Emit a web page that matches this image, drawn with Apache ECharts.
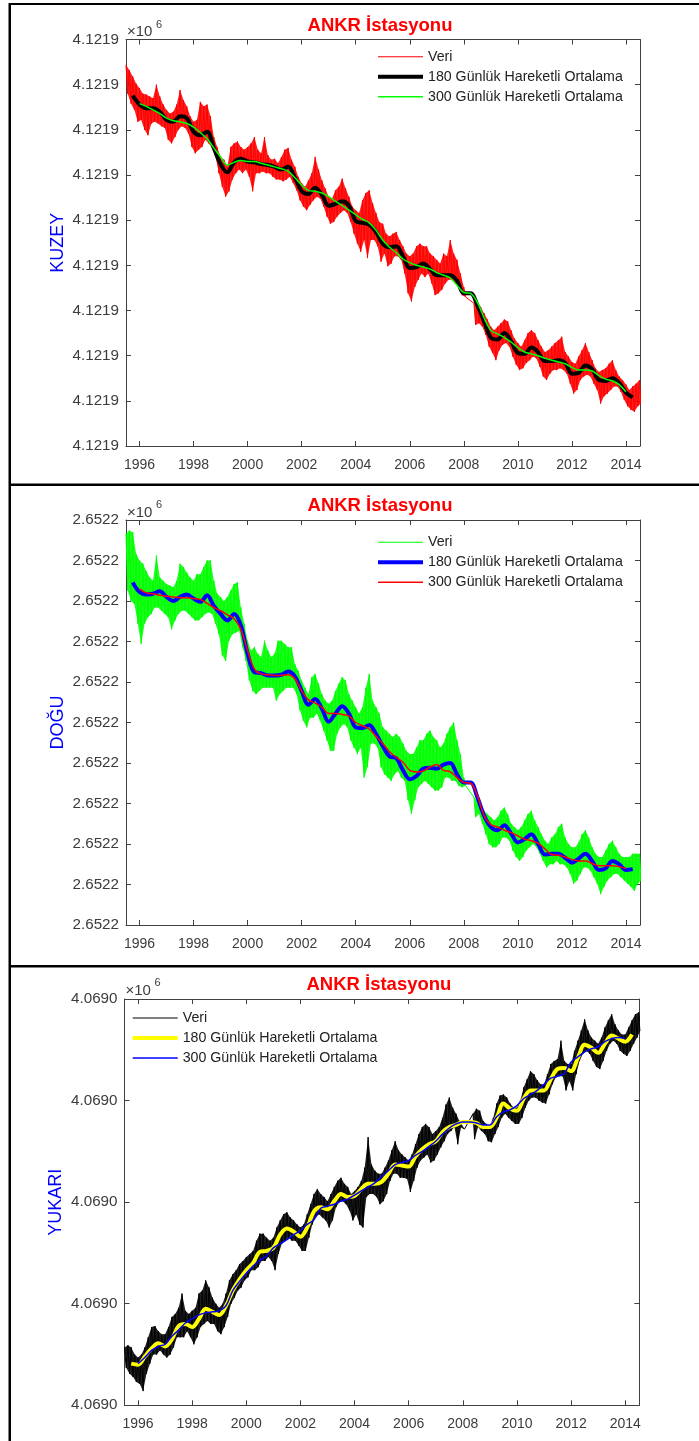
<!DOCTYPE html>
<html>
<head>
<meta charset="utf-8">
<script src="https://cdn.jsdelivr.net/npm/echarts@6/dist/echarts.min.js"></script>
<style>
  html, body { margin: 0; padding: 0; background: #ffffff; }
  #chart { width: 699px; height: 1441px; }
</style>
</head>
<body>
<div id="chart"></div>
<script>
// ANKR GNSS station: north / east / up coordinate series with 180- and 300-day moving averages.
// All series values are millimetres above each component's base coordinate (metres).

// Raw series: upper and lower swing of the daily scatter, one pair every 1.5 months from 1995.5
const RAW_START = 1995.5;
const RAW_STEP = 0.125;
// Moving averages: one value per quarter year
const MA180_START = 1995.75;
const MA300_START = 1996.0;
const MA_STEP = 0.25;

const yearTicks = [1996, 1998, 2000, 2002, 2004, 2006, 2008, 2010, 2012, 2014];

// ---- KUZEY (north), base 4121900 m
const kuzeyHi = [422,416,409,401,
  396,390,389,387,385,400,387,378,
  372,368,370,378,394,383,376,365,
  359,361,381,376,378,365,342,331,
  320,317,309,331,335,337,331,328,
  331,335,342,328,324,342,322,317,
  318,313,320,328,330,317,309,298,
  291,287,294,302,320,306,294,285,
  276,274,283,287,296,285,276,265,
  261,258,272,280,283,269,258,248,
  246,235,232,235,237,228,221,213,
  210,213,221,224,221,221,213,210,
  206,202,213,210,228,213,206,191,
  176,null,null,158,158,154,147,140,
  132,128,132,136,140,138,128,119,
  114,110,117,125,128,125,117,110,
  104,106,110,114,117,121,104,99,
  93,91,99,106,114,104,95,86,
  82,84,86,91,95,84,77,73,
  68,62,66,69,73];
const kuzeyLo = [390,379,372,359,
  361,350,344,357,359,357,354,352,
  339,335,342,350,354,352,346,331,
  324,328,331,339,335,330,320,302,
  287,276,282,295,302,306,302,306,
  298,282,302,302,304,302,302,298,
  295,295,293,295,298,291,283,272,
  265,261,267,272,276,274,265,254,
  246,248,254,258,261,258,248,235,
  224,215,228,208,228,228,221,204,
  213,199,202,210,210,206,191,169,
  160,176,184,191,187,191,180,167,
  169,173,180,184,184,180,176,167,
  165,null,null,134,136,132,123,110,
  103,95,106,112,114,110,99,90,
  84,86,92,95,99,97,88,77,
  73,80,84,84,86,84,80,69,
  58,62,73,77,79,77,69,62,
  47,55,58,62,66,66,60,51,
  44,40,38,44,47];
const kuzeyMA180 = [388,378,374,374,370,361,359,365,363,348,344,348,330,312,303,314,318,315,314,312,
  311,309,306,309,297,282,279,286,278,266,268,271,266,249,247,245,237,224,220,221,
  210,197,198,202,196,189,189,189,183,169,169,156,138,120,118,125,116,103,102,109,
  104,94,94,95,92,80,81,89,85,73,72,75,70,59,54];
const kuzeyMA300 = [379,376,372,368,363,360,359,357,353,347,340,330,320,311,314,316,315,315,313,311,
  309,307,304,297,289,283,282,280,276,271,266,261,256,251,247,239,228,220,214,207,
  203,200,198,196,192,189,186,178,170,169,159,142,128,124,120,115,109,104,102,100,
  97,95,93,91,87,84,84,83,78,74,72,68,60];

// ---- DOĞU (east), base 2652200 m
const doguHi = [483,487,485,458,
  450,446,437,429,425,456,429,425,
  421,419,417,425,446,442,435,429,
  425,433,433,442,450,450,425,409,
  405,400,405,413,421,423,392,372,
  351,339,343,335,331,351,339,331,
  335,351,351,347,343,343,322,314,
  302,293,285,306,310,298,285,277,
  273,277,289,298,306,302,285,277,
  269,261,269,293,310,277,269,261,
  244,240,236,232,236,232,224,215,
  211,211,219,228,228,236,240,232,
  228,219,224,236,244,250,228,211,
  182,null,null,158,154,149,141,137,
  133,129,133,141,145,137,125,121,
  117,121,129,137,141,129,121,112,
  104,100,108,112,121,125,108,100,
  96,96,102,112,117,108,96,88,
  84,84,92,100,104,96,88,84,
  84,84,88,88,88];
const doguLo = [413,400,396,372,
  347,372,380,384,392,392,388,384,
  380,365,376,384,388,388,384,380,
  376,376,380,384,386,384,372,359,
  333,326,351,359,361,363,343,326,
  302,289,285,289,293,293,293,293,
  277,285,289,293,293,293,285,265,
  252,244,256,256,261,252,240,228,
  215,215,236,244,248,244,228,219,
  211,219,182,195,224,224,219,195,
  186,182,178,186,190,182,178,154,
  137,154,170,174,178,174,170,166,
  166,170,182,182,178,178,172,170,
  172,null,null,133,137,125,112,100,
  96,96,100,108,108,104,92,84,
  79,84,92,96,100,96,88,79,
  71,75,75,79,75,75,71,63,
  51,55,63,71,71,67,59,51,
  38,47,55,59,63,63,59,55,
  51,47,42,51,55];
const doguMA180 = [423,411,408,409,412,405,400,405,408,403,399,407,394,384,376,384,370,335,312,311,
  308,308,309,313,307,289,272,279,267,251,261,270,261,244,243,247,236,221,208,206,
  191,180,184,193,194,193,198,200,186,176,176,158,135,121,117,123,113,102,106,112,
  100,87,88,88,83,77,82,88,79,68,70,79,75,68,69];
const doguMA300 = [415,410,409,407,406,405,404,404,403,402,397,392,388,383,378,365,339,316,310,309,
  308,308,309,304,289,278,274,269,261,261,260,258,250,246,242,233,224,214,207,201,
  191,189,190,195,198,191,189,182,176,175,160,135,124,121,117,114,110,106,104,101,
  94,87,86,84,81,79,79,76,73,73,73,72,70];

// ---- YUKARI (up), base 4069000 m
const yukariHi = [57,59,57,50,
  47,50,57,67,77,78,73,70,
  70,77,87,90,96,110,93,90,
  93,96,110,113,123,116,106,100,
  96,100,110,123,129,133,139,142,
  146,149,152,162,169,169,165,162,
  165,175,182,188,190,185,182,178,
  175,178,188,198,208,213,208,205,
  201,208,215,221,224,218,215,208,
  211,215,221,234,264,237,231,228,
  228,234,241,251,260,251,247,244,
  241,247,257,267,274,277,274,267,
  270,274,283,296,303,293,287,280,
  275,null,null,287,292,290,280,277,
  275,283,297,305,306,303,297,293,
  293,300,313,321,329,326,320,316,
  316,326,336,339,341,359,339,336,
  336,349,359,369,380,369,362,359,
  356,362,372,379,385,375,369,365,
  365,372,379,385,387];
const yukariLo = [37,31,28,23,
  21,14,31,41,50,50,54,50,
  47,50,57,67,67,67,73,67,
  60,67,77,80,83,80,80,73,
  70,77,87,100,106,113,116,123,
  126,133,133,136,142,142,146,142,
  133,149,159,162,165,162,162,157,
  152,152,165,178,185,188,185,182,
  175,182,195,200,201,198,192,182,
  188,178,175,205,208,208,205,198,
  201,208,221,228,228,224,224,223,
  210,221,234,241,244,247,239,241,
  247,254,260,267,270,274,257,274,
  272,null,null,262,274,270,267,260,
  259,267,274,283,287,283,280,277,
  277,283,293,300,303,303,300,298,
  297,306,316,323,324,324,310,319,
  310,326,339,346,349,346,339,333,
  331,339,349,356,359,356,349,346,
  344,349,356,362,369];
const yukariMA180 = [41,40,48,56,61,58,65,78,80,77,85,95,92,89,98,113,124,133,140,151,
  152,155,168,174,171,166,175,191,195,193,201,208,205,206,213,218,218,220,228,237,
  236,235,245,252,257,260,269,274,276,279,279,278,274,274,283,297,292,290,302,310,
  310,310,321,331,332,329,342,355,352,347,356,364,361,358,365];
const yukariMA300 = [41,47,54,58,60,68,74,81,85,89,91,92,93,98,113,122,130,137,143,147,
  155,159,163,168,172,178,183,194,196,198,201,203,207,211,215,219,225,231,237,239,
  241,246,250,255,260,267,273,277,279,279,278,276,276,284,289,291,295,302,306,310,
  316,322,324,327,338,343,348,351,353,358,361,362,361];

const legendNames = ['Veri', '180 Günlük Hareketli Ortalama', '300 Günlük Hareketli Ortalama'];
const stationTitle = 'ANKR İstasyonu';

// ---- component descriptions
const components = [
  { label: 'KUZEY', base: 4121900, hi: kuzeyHi, lo: kuzeyLo, ma180: kuzeyMA180, ma300: kuzeyMA300,
    yMax: 450, yStep: 50, colors: ['#ff0000', '#000000', '#00ff00'] },
  { label: 'DOĞU', base: 2652200, hi: doguHi, lo: doguLo, ma180: doguMA180, ma300: doguMA300,
    yMax: 500, yStep: 50, colors: ['#00ff00', '#0000ff', '#ff0000'] },
  { label: 'YUKARI', base: 4069000, hi: yukariHi, lo: yukariLo, ma180: yukariMA180, ma300: yukariMA300,
    yMax: 400, yStep: 100, colors: ['#000000', '#ffff00', '#0000ff'] }
];

// ---- layout of the three stacked panels
const layout = [
  { grid: { left: 126, right: 59, top: 39.5, height: 406.5 }, titleY: 26, expY: 32, legend: { left: 378, top: 49.7 } },
  { grid: { left: 126, right: 59, top: 520, height: 405 }, titleY: 506, expY: 512.5, legend: { left: 378, top: 535.3 } },
  { grid: { left: 124.5, right: 59.7, top: 999, height: 406.3 }, titleY: 984.5, expY: 990.5, legend: { left: 132.7, top: 1011 } }
];

const FONT = '"Liberation Sans", Arial, Helvetica, sans-serif';
const AXIS_COLOR = '#404040';
const LABEL_COLOR = '#3c3c3c';
const X_MIN = 1995.5, X_MAX = 2014.52;
const lineWidths = [1, 4, 1.5];
const legendIcons = ['path://M0,0H45V1H0Z', 'path://M0,0H45V4H0Z', 'path://M0,0H90V3H0Z'];

// raw scatter drawn as alternating upper/lower swings
function rawPoints(hi, lo) {
  const pts = [];
  for (let i = 0; i < hi.length; i++) {
    const t = RAW_START + i * RAW_STEP;
    if (hi[i] != null) pts.push([t, hi[i]]);
    if (lo[i] != null) pts.push([t + RAW_STEP / 2, lo[i]]);
  }
  return pts;
}
function maPoints(values, start) {
  return values.map((v, i) => [start + i * MA_STEP, v]);
}

// filled envelope of the raw scatter: one polygon per unbroken run of samples
function envelopeSeries(c, p) {
  return {
    type: 'custom', xAxisIndex: 2 * p, yAxisIndex: 2 * p, silent: true, z: 1,
    data: c.hi.map((v, i) => [RAW_START + i * RAW_STEP, v, c.lo[i]]),
    encode: { x: 0, y: [1, 2] },
    renderItem: (params, api) => {
      if (params.dataIndex !== 0) return null;
      const runs = [];
      let run = null;
      for (let i = 0; i < c.hi.length; i++) {
        if (c.hi[i] == null || c.lo[i] == null) { run = null; continue; }
        if (!run) { run = { top: [], bottom: [] }; runs.push(run); }
        const t = RAW_START + i * RAW_STEP;
        run.top.push(api.coord([t, c.hi[i]]));
        run.bottom.push(api.coord([t + RAW_STEP / 2, c.lo[i]]));
      }
      return {
        type: 'group',
        children: runs.map(r => ({
          type: 'polygon',
          shape: { points: r.top.concat(r.bottom.slice().reverse()) },
          style: { fill: c.colors[0], opacity: 0.88 }
        }))
      };
    }
  };
}

const grids = [], xAxes = [], yAxes = [], series = [], legends = [], graphics = [];

components.forEach((c, p) => {
  const L = layout[p];
  grids.push(Object.assign({ containLabel: false }, L.grid));

  const tickStyle = { show: true, inside: true, length: 5, lineStyle: { color: AXIS_COLOR, width: 1 } };
  const lineStyle = { show: true, onZero: false, lineStyle: { color: AXIS_COLOR, width: 1 } };

  xAxes.push({
    gridIndex: p, type: 'value', position: 'bottom', min: X_MIN, max: X_MAX,
    axisLine: lineStyle,
    axisTick: Object.assign({ customValues: yearTicks }, tickStyle),
    axisLabel: { customValues: yearTicks, color: LABEL_COLOR, fontSize: 14, fontFamily: FONT, margin: 12,
                 formatter: v => String(v) },
    splitLine: { show: false }
  });
  xAxes.push({
    gridIndex: p, type: 'value', position: 'top', min: X_MIN, max: X_MAX,
    axisLine: lineStyle,
    axisTick: Object.assign({ customValues: yearTicks }, tickStyle),
    axisLabel: { show: false },
    splitLine: { show: false }
  });
  yAxes.push({
    gridIndex: p, type: 'value', position: 'left', min: 0, max: c.yMax, interval: c.yStep,
    axisLine: lineStyle, axisTick: tickStyle,
    axisLabel: { color: LABEL_COLOR, fontSize: 15.2, fontFamily: FONT, margin: 7,
                 formatter: v => ((c.base + v / 1000) / 1e6).toFixed(4) },
    splitLine: { show: false },
    name: c.label, nameLocation: 'middle', nameGap: 59, nameMoveOverlap: false,
    nameTextStyle: { color: '#0000ff', fontSize: 18, fontFamily: FONT }
  });
  yAxes.push({
    gridIndex: p, type: 'value', position: 'right', min: 0, max: c.yMax, interval: c.yStep,
    axisLine: lineStyle, axisTick: tickStyle, axisLabel: { show: false }, splitLine: { show: false }
  });

  const names = legendNames.map(n => c.label + ' · ' + n);

  series.push(envelopeSeries(c, p));

  const dataSets = [rawPoints(c.hi, c.lo), maPoints(c.ma180, MA180_START), maPoints(c.ma300, MA300_START)];
  dataSets.forEach((d, k) => {
    series.push({
      name: names[k], type: 'line', xAxisIndex: 2 * p, yAxisIndex: 2 * p,
      data: d, symbol: 'none', showSymbol: false, smooth: k === 0 ? false : 0.35,
      lineStyle: { color: c.colors[k], width: lineWidths[k] },
      itemStyle: { color: c.colors[k] },
      z: 2 + k, silent: true
    });
  });

  legends.push({
    orient: 'vertical', left: L.legend.left, top: L.legend.top, padding: 0,
    itemWidth: 45, itemHeight: 14, itemGap: 6, selectedMode: false, symbolKeepAspect: true,
    textStyle: { fontSize: 14.2, color: '#222222', fontFamily: FONT },
    formatter: n => n.split(' · ')[1],
    data: names.map((n, k) => ({ name: n, icon: legendIcons[k], itemStyle: { color: c.colors[k] } }))
  });

  // panel title and the axis multiplier
  const plotCenter = L.grid.left + (699 - L.grid.left - L.grid.right) / 2 - 3;
  graphics.push({
    type: 'text', x: plotCenter, y: L.titleY, silent: true,
    style: { text: stationTitle, fill: '#ff0000', font: 'bold 18.5px ' + FONT, align: 'center', verticalAlign: 'middle' }
  });
  graphics.push({
    type: 'text', x: L.grid.left + 1, y: L.expY, silent: true,
    style: { text: '×10', fill: LABEL_COLOR, font: '15px ' + FONT, align: 'left', verticalAlign: 'middle' }
  });
  graphics.push({
    type: 'text', x: L.grid.left + 30, y: L.expY - 7.5, silent: true,
    style: { text: '6', fill: LABEL_COLOR, font: '11px ' + FONT, align: 'left', verticalAlign: 'middle' }
  });
});

// page frame and panel separators
[
  { x: 10, y: 3, width: 689, height: 2 },
  { x: 8.5, y: 3, width: 2.5, height: 1438 },
  { x: 10, y: 483.5, width: 689, height: 2.5 },
  { x: 10, y: 965, width: 689, height: 2.5 }
].forEach(r => graphics.push({ type: 'rect', shape: r, style: { fill: '#000000' }, silent: true, z: 10 }));

const chart = echarts.init(document.getElementById('chart'), null, { renderer: 'canvas' });
chart.setOption({
  animation: false,
  backgroundColor: '#ffffff',
  grid: grids,
  xAxis: xAxes,
  yAxis: yAxes,
  legend: legends,
  series: series,
  graphic: graphics
});
</script>
</body>
</html>
